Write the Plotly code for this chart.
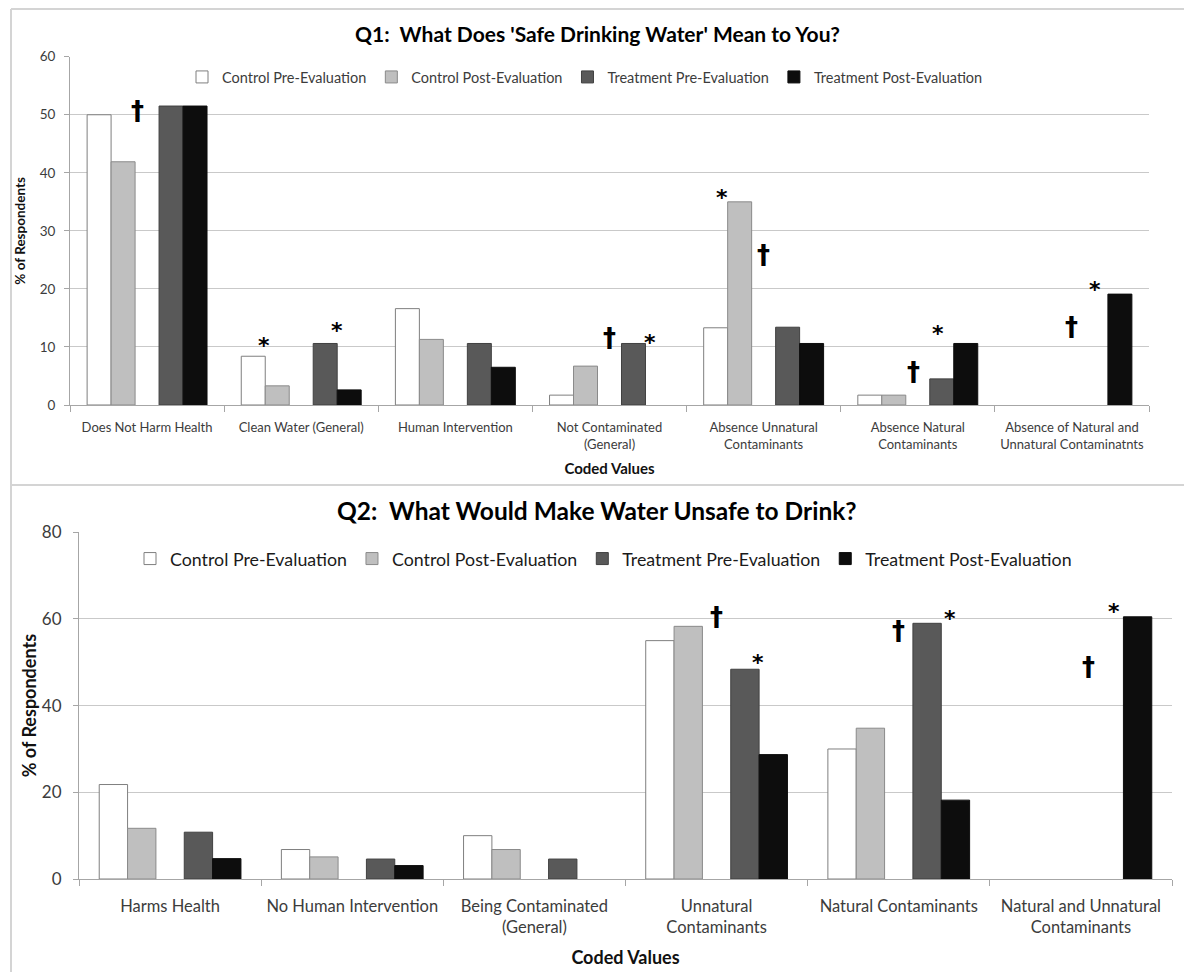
import plotly.graph_objects as go

W, H = 1184, 972

# ---------------- Q1 data ----------------
q1_categories = [
    "Does Not Harm Health",
    "Clean Water (General)",
    "Human Intervention",
    "Not Contaminated<br>(General)",
    "Absence Unnatural<br>Contaminants",
    "Absence Natural<br>Contaminants",
    "Absence of Natural and<br>Unnatural Contaminatnts",
]
q1_control_pre = [50.0, 8.4, 16.6, 1.7, 13.3, 1.7, 0]
q1_control_post = [41.9, 3.3, 11.3, 6.7, 35.0, 1.7, 0]
q1_treatment_pre = [51.5, 10.6, 10.6, 10.6, 13.4, 4.5, 0]
q1_treatment_post = [51.5, 2.6, 6.5, 0, 10.6, 10.6, 19.1]

# ---------------- Q2 data ----------------
q2_categories = [
    "Harms Health",
    "No Human Intervention",
    "Being Contaminated<br>(General)",
    "Unnatural<br>Contaminants",
    "Natural Contaminants",
    "Natural and Unnatural<br>Contaminants",
]
q2_control_pre = [21.8, 6.8, 10.0, 55.0, 30.0, 0]
q2_control_post = [11.7, 5.1, 6.8, 58.3, 34.8, 0]
q2_treatment_pre = [10.8, 4.6, 4.6, 48.4, 59.0, 0]
q2_treatment_post = [4.7, 3.1, 0, 28.7, 18.2, 60.5]

series_names = [
    "Control Pre-Evaluation",
    "Control Post-Evaluation",
    "Treatment Pre-Evaluation",
    "Treatment Post-Evaluation",
]

# significance flags: (category index, offset within group, height, symbol)
q1_flags = [
    (0, -0.06, 50.6, "†"),
    (1, -0.24, 11.2, "*"), (1, 0.23, 13.9, "*"),
    (3, 0.00, 11.5, "†"), (3, 0.26, 11.8, "*"),
    (4, -0.27, 36.7, "*"), (4, 0.00, 25.9, "†"),
    (5, -0.03, 5.6, "†"), (5, 0.13, 13.3, "*"),
    (6, 0.00, 13.5, "†"), (6, 0.15, 21.0, "*"),
]
q2_flags = [
    (3, 0.00, 60.5, "†"), (3, 0.23, 51.4, "*"),
    (4, 0.00, 57.2, "†"), (4, 0.28, 61.4, "*"),
    (5, 0.04, 48.9, "†"), (5, 0.18, 63.0, "*"),
]

FONT = "Lato"
fills = ["#ffffff", "#bfbfbf", "#595959", "#0d0d0d"]
edges = ["#7f7f7f", "#8a8a8a", "#404040", "#0d0d0d"]
GRID = "#c9c9c9"
AXIS = "#a6a6a6"
TICK_TXT = "#3c3c3c"


def px_x(v):
    return v / W


def px_y(v):
    return 1 - v / H


fig = go.Figure()


def add_group(cats, values, xa, ya, legend):
    # the gap slot between control and treatment is an empty series
    order = [values[0], values[1], None, values[2], values[3]]
    k = 0
    for vals in order:
        if vals is None:
            fig.add_trace(go.Bar(
                x=cats, y=[0] * len(cats), xaxis=xa, yaxis=ya,
                marker=dict(color="rgba(0,0,0,0)", line=dict(width=0)),
                showlegend=False, hoverinfo="skip", legend=legend,
            ))
            continue
        # empty (0 %) bars are not outlined
        widths = [0 if v == 0 else 1 for v in vals]
        fig.add_trace(go.Bar(
            x=cats, y=vals, name=series_names[k], xaxis=xa, yaxis=ya,
            marker=dict(color=fills[k], line=dict(color=edges[k], width=widths)),
            legend=legend,
        ))
        k += 1


add_group(q1_categories, [q1_control_pre, q1_control_post, q1_treatment_pre, q1_treatment_post],
          "x", "y", "legend")
add_group(q2_categories, [q2_control_pre, q2_control_post, q2_treatment_pre, q2_treatment_post],
          "x2", "y2", "legend2")

annotations = []


def add_flags(flags, xref, yref):
    for ci, off, yv, sym in flags:
        if sym == "*":
            annotations.append(dict(
                x=ci + off, y=yv, xref=xref, yref=yref, text="<b>*</b>", showarrow=False,
                xanchor="center", yanchor="middle",
                font=dict(family="DejaVu Sans", size=22, color="#000"), yshift=-6,
            ))
        else:
            annotations.append(dict(
                x=ci + off, y=yv, xref=xref, yref=yref, text="<b>†</b>", showarrow=False,
                xanchor="center", yanchor="middle",
                font=dict(family="DejaVu Sans", size=26, color="#000"),
            ))


add_flags(q1_flags, "x", "y")
add_flags(q2_flags, "x2", "y2")

# chart titles
annotations.append(dict(
    x=px_x(597), y=px_y(33), xref="paper", yref="paper", showarrow=False,
    xanchor="center", yanchor="middle",
    text="<b>Q1:&nbsp; What Does 'Safe Drinking Water' Mean to You?</b>",
    font=dict(family=FONT, size=21, color="#000"),
))
annotations.append(dict(
    x=px_x(597), y=px_y(510), xref="paper", yref="paper", showarrow=False,
    xanchor="center", yanchor="middle",
    text="<b>Q2:&nbsp; What Would Make Water Unsafe to Drink?</b>",
    font=dict(family=FONT, size=24.5, color="#000"),
))

frame = dict(type="line", xref="paper", yref="paper", line=dict(color="#d4d4d4", width=2))
shapes = [
    dict(frame, x0=px_x(11), x1=1, y0=px_y(9), y1=px_y(9)),
    dict(frame, x0=px_x(11), x1=1, y0=px_y(485), y1=px_y(485)),
    dict(frame, x0=px_x(11), x1=px_x(11), y0=px_y(9), y1=0),
]


def xaxis_style(domain, anchor, font_size, title_size, standoff, lab_off):
    return dict(
        domain=domain, anchor=anchor, type="category",
        showline=True, linecolor=AXIS, linewidth=1,
        ticks="outside", tickson="boundaries", ticklen=6, tickcolor=AXIS,
        ticklabelstandoff=lab_off,
        tickfont=dict(family=FONT, size=font_size, color=TICK_TXT),
        showgrid=False, zeroline=False, automargin=False,
        title=dict(text="<b>Coded Values</b>", font=dict(family=FONT, size=title_size, color="#111"),
                   standoff=standoff),
    )


def yaxis_style(domain, anchor, rng, dtick, font_size, title_size, standoff, lab_off):
    return dict(
        domain=domain, anchor=anchor, range=rng, dtick=dtick,
        showline=True, linecolor=AXIS, linewidth=1,
        ticks="outside", ticklen=5, tickcolor=AXIS, ticklabelstandoff=lab_off,
        showgrid=True, gridcolor=GRID, gridwidth=1, zeroline=False, automargin=False,
        tickfont=dict(family=FONT, size=font_size, color=TICK_TXT),
        title=dict(text="<b>% of Respondents</b>", font=dict(family=FONT, size=title_size, color="#111"),
                   standoff=standoff),
    )


fig.update_layout(
    width=W, height=H,
    margin=dict(l=0, r=0, t=0, b=0),
    paper_bgcolor="white", plot_bgcolor="white",
    barmode="group", bargap=0.222, bargroupgap=0,
    font=dict(family=FONT),
    xaxis=xaxis_style([px_x(70), px_x(1149)], "y", 13, 15, 12, 10),
    yaxis=yaxis_style([px_y(405), px_y(56.7)], "x", [0, 60], 10, 13.5, 13.5, 10, 6),
    xaxis2=xaxis_style([px_x(79), px_x(1172)], "y2", 16.5, 18, 15, 12),
    yaxis2=yaxis_style([px_y(879), px_y(532.3)], "x2", [0, 80], 20, 17, 18, 0, 8),
    legend=dict(
        orientation="h", x=px_x(172), y=px_y(77), xanchor="left", yanchor="middle",
        font=dict(family=FONT, size=14.5, color=TICK_TXT),
        bgcolor="white", bordercolor="white", borderwidth=10, itemwidth=30,
    ),
    legend2=dict(
        orientation="h", x=px_x(130), y=px_y(559), xanchor="left", yanchor="middle",
        font=dict(family=FONT, size=17.8, color="#1a1a1a"),
        bgcolor="rgba(0,0,0,0)", borderwidth=0, itemwidth=30,
    ),
    annotations=annotations,
    shapes=shapes,
)

fig.write_html("out.html")
